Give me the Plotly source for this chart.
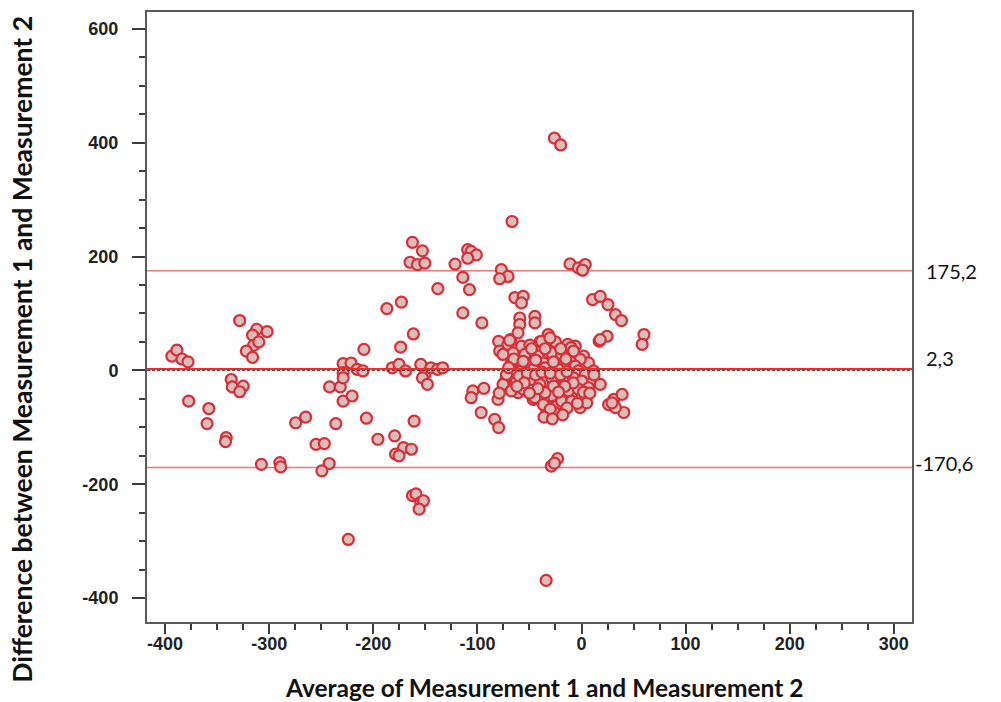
import plotly.graph_objects as go

# Bland-Altman data: average (x) and difference (y)
avg = [
    -393.5, -388.7, -383.8, -378, -328.4, -312, -302, -316, -315, -322, -316, -310,
    -336.5, -335.5, -325, -328.4, -377.4, -358, -359.7, -341.3, -342, -307.5, -289.8, -289,
    -274.6, -265, -255, -247, -242.4, -249.4, -236, -242, -231.7, -229, -229, -229,
    -224, -221.4, -215.6, -210, -229, -220.4, -209, -206.6, -195.6, -187, -173, -179.5,
    -171, -163.4, -178.6, -175.3, -160.8, -181.8, -175.3, -169, -173.7, -161.5, -154.4, -150.5,
    -152.8, -148, -144.7, -138.3, -133.4, -162.4, -159, -154.4, -151.8, -156, -162.4, -152.8,
    -164.7, -157.6, -150.5, -138, -109.3, -106, -101, -109.3, -121.5, -114, -107.6, -114,
    -95.7, -66.7, -77, -70.6, -78.6, -64, -56, -57.7, -59.3, -44.8, -44.8, -59.3,
    -104.4, -106, -93.8, -80.2, -96.4, -83.4, -79.6, -79.6, -78.6, -70.6, -68, -74,
    -26, -20, -11, -3, 3.6, 1, -34, -29, -23, -26,
    10.6, 18, 25.4, 32.6, 38.4, 17, 24.5, 60, 58.3, 18, 26, 31, 39, 40.6, 32.6, 29.3,
    -61, -69, -57.7, -49.6, -40, -32, -25, -13.2, -6, 2, 6.8, -1.3, -11, -22.2, -32, -41.6,
    -51.2, -65.7, -67.4, -57.7, -48, -36.7, -27, -17.4, -6, -72.2, -75.4, -61, -48, -35, -27, -15.8,
    0.3, 10, 18, 3.6, -6, -19, -28.7, -36.7, -46.4, -27, -24, -33.5, -25.4, -38.4, -30.3, -10,
    -28.7, -19, -7.7, -75.4, -54.4, -72, -57.7, -46.4, -35, -22.2, -3, 3.6, 11.6, -62.5, -40, -28.7,
    -7.7, 0.3, 6.8, -67.4, -56, -44.8, -35, -27, -12.6, -3, 0.3, -36.7, -19, -9.4, -1.3, 5, -32, -79,
    -65, -60, -52, -44, -38, -30, -20, -14, -8, 2, -16, -22, -42, -50, -55, -62,
    -48, -35, -20, -15, -27, -44, -56, -4, -14, -30, -18, -36, -28, 8, 12, -70,
]
diff = [
    25, 35.6, 20, 15, 87.6, 72, 68, 62, 44, 34, 23, 50,
    -16, -29, -27.5, -37.5, -54, -67, -93.5, -118, -125, -165, -162, -169.5,
    -92, -82, -130, -128.6, -163.6, -176.5, -93.5, -29, -29, -54, 12, -4,
    -297, 13, 1.8, -1, -13, -45, 36.8, -84, -121, 108.6, 120, -115,
    -135.6, -138.5, -147, -150, -89, 4.6, 10.5, -1, 40.8, 64, 10.5, -7,
    -13, -24.5, 4.6, 1.8, 4.6, -220, -217, -232, -229, -243.6, 225, 210,
    190, 185.7, 188.5, 143.7, 212, 209, 203, 197, 186.8, 163.5, 142, 101,
    83.4, 261.6, 177, 165, 161, 128, 130, 118.5, 92, 95, 83.4, 80.6,
    -36, -48, -31.5, -51, -74, -86, -100.5, 51, 34, 45.6, 54, -21.7,
    408, 396, 187, 180, 186, 176, -369, -168, -155, -163,
    124.4, 130, 115.6, 98, 87.6, 51.3, 60, 63, 45.6, 54, -60, -51, -42, -74, -65.5, -57,
    66, 52.6, 42.6, 44.3, 50, 63, 50, 45.6, 42.6, 25, 13.3, 19.3, 16.3, 22, 30.8, 25,
    28, 30.8, 13.3, 4.6, 7.5, 13.3, 7.5, 7.5, 7.5, -10, -24.5, -39, -15.8, -18.7, -24.5, -18.7,
    -10, -18.7, -24.5, -51, -45, -45, -45, -51, -51, -62.6, -62.6, -74, -74, 51, 57, 40,
    30.8, 28, 34, 28, 28, -7, -1, 1.8, 4.6, 1.8, -1, -7, -1, -18.7, -24.5, -13,
    -13, -18.7, -30.5, -36, -33, -48, -39, -27.5, -36, -33, -48, -60, -54, -54, -65.5, -57, -77, -40,
    20, -10, -5, -8, -3, -5, -8, -2, -22, -38, -28, -38, -32, -40, -22, -28,
    38, 38, 38, 20, 15, 18, 16, -58, -66, -68, -78, -82, -85, -40, -8, 5,
]

mean_diff = 2.3
upper_loa = 175.2
lower_loa = -170.6
loa_values = [upper_loa, mean_diff, lower_loa]
loa_labels = ["175,2", "2,3", "-170,6"]

x_tickvals = [-400, -300, -200, -100, 0, 100, 200, 300]
x_ticktext = ["-400", "-300", "-200", "-100", "0", "100", "200", "300"]
y_tickvals = [-400, -200, 0, 200, 400, 600]
y_ticktext = ["-400", "-200", "0", "200", "400", "600"]

x_title = "Average of Measurement 1 and Measurement 2"
y_title = "Difference between Measurement 1 and Measurement 2"

fig = go.Figure()
fig.add_trace(go.Scatter(
    x=avg, y=diff, mode="markers",
    marker=dict(size=11, color="rgb(218,190,186)",
                line=dict(color="rgb(218,45,55)", width=2.2)),
    showlegend=False, hoverinfo="x+y",
))

shapes = []
for v in (upper_loa, lower_loa):
    shapes.append(dict(type="line", xref="paper", x0=0, x1=1, yref="y", y0=v, y1=v,
                       line=dict(color="rgb(238,120,120)", width=1.5), layer="below"))
shapes.append(dict(type="line", xref="paper", x0=0, x1=1, yref="y", y0=0, y1=0,
                   line=dict(color="rgb(110,30,30)", width=1, dash="3px,2px"), layer="above"))
shapes.append(dict(type="line", xref="paper", x0=0, x1=1, yref="y", y0=mean_diff, y1=mean_diff,
                   line=dict(color="rgb(225,50,50)", width=2), layer="above"))

annotations = []
label_x = [1.0157, 1.0157, 1.001]
label_shift = [0, 11, 5]
for v, lab, lx, sh in zip(loa_values, loa_labels, label_x, label_shift):
    annotations.append(dict(text=lab, xref="paper", x=lx, yref="y", y=v, yshift=sh,
                            xanchor="left", yanchor="middle", showarrow=False,
                            font=dict(family="Lato", size=20, color="#111")))
annotations.append(dict(text=x_title, xref="paper", x=0.5196, yref="paper", y=-0.1078,
                        xanchor="center", yanchor="middle", showarrow=False,
                        font=dict(family="Lato", size=24.5, color="#111", weight="bold")))
annotations.append(dict(text=y_title, xref="paper", x=-0.1634, yref="paper", y=0.448,
                        xanchor="center", yanchor="middle", showarrow=False, textangle=-90,
                        font=dict(family="Lato", size=26.5, color="#111", weight="bold")))

axis_common = dict(showline=True, linecolor="rgb(90,90,90)", linewidth=2, mirror=True,
                   showgrid=False, zeroline=False, ticks="outside", tickcolor="rgb(60,60,60)",
                   tickwidth=1.5, tickmode="array",
                   tickfont=dict(family="Liberation Sans", size=18, color="#222", weight="bold"))

fig.update_layout(
    width=1001, height=702,
    margin=dict(l=147, r=89, t=10, b=80),
    paper_bgcolor="white", plot_bgcolor="white",
    shapes=shapes, annotations=annotations,
    xaxis=dict(range=[-417.4, 317.5], tickvals=x_tickvals, ticktext=x_ticktext, ticklen=10,
               ticklabelstandoff=-6,
               minor=dict(dtick=25, tick0=0, ticklen=6, ticks="outside", tickcolor="rgb(60,60,60)", tickwidth=1.5),
               **axis_common),
    yaxis=dict(range=[-442, 629.6], tickvals=y_tickvals, ticktext=y_ticktext, ticklen=13,
               ticklabelstandoff=10,
               minor=dict(dtick=50, tick0=0, ticklen=6, ticks="outside", tickcolor="rgb(60,60,60)", tickwidth=1.5),
               **axis_common),
)

fig.write_html("out.html")
